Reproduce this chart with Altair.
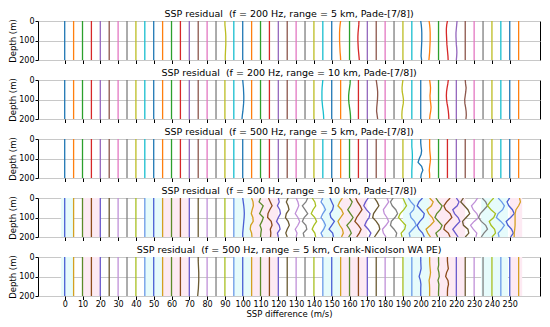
import altair as alt
import pandas as pd

# ---------------- data ----------------
TITLES = [
    "SSP residual\u00a0 (f = 200 Hz, range = 5 km, Pade-[7/8])",
    "SSP residual\u00a0 (f = 200 Hz, range = 10 km, Pade-[7/8])",
    "SSP residual\u00a0 (f = 500 Hz, range = 5 km, Pade-[7/8])",
    "SSP residual\u00a0 (f = 500 Hz, range = 10 km, Pade-[7/8])",
    "SSP residual\u00a0 (f = 500 Hz, range = 5 km, Crank-Nicolson WA PE)",
]
DEPTHS = [0, 20, 40, 60, 80, 100, 120, 140, 160, 180, 200]
OFFSETS = [0, 5, 10, 15, 20, 25, 30, 35, 40, 45, 50, 55, 60, 65, 70, 75, 80, 85, 90, 95,
           100, 105, 110, 115, 120, 125, 130, 135, 140, 145, 150, 155, 160, 165, 170, 175,
           180, 185, 190, 195, 200, 205, 210, 215, 220, 225, 230, 235, 240, 245, 250, 255]
X_TICKS = [0, 10, 20, 30, 40, 50, 60, 70, 80, 90, 100, 110, 120, 130, 140, 150, 160, 170,
           180, 190, 200, 210, 220, 230, 240, 250]

# residual deviation (m/s) for the lines that are not straight, per panel
DEV1 = {
    18: [0, 0, 0.2, 0.4, 0.5, 0.5, 0.5, 0.4, 0.3, 0.2, 0.2],
    31: [0, -0.3, -0.5, -0.6, -0.6, -0.6, -0.5, -0.4, -0.3, -0.1, 0],
    33: [0.3, 0.2, 0, -0.2, -0.3, -0.3, -0.2, -0.1, 0.1, 0.3, 0.5],
    40: [0, 0.3, 0.5, 0.6, 0.6, 0.6, 0.5, 0.4, 0.3, 0.2, 0.5],
    41: [-0.3, 0, 0.2, 0.3, 0.3, 0.3, 0.2, 0.1, 0, -0.2, -0.4],
    43: [0, -0.4, -0.6, -0.6, -0.5, -0.4, -0.3, -0.1, 0.1, 0.3, 0.4],
    44: [0.4, 0.2, 0, -0.2, -0.2, -0.1, 0, 0.2, 0.3, 0.2, 0],
}
DEV2 = {
    20: [0, 0.2, 0.4, 0.5, 0.6, 0.6, 0.5, 0.3, 0.1, -0.2, -0.4],
    29: [0, -0.2, -0.4, -0.5, -0.5, -0.5, -0.3, -0.1, 0.2, 0.4, 0.5],
    32: [0.4, 0.3, 0, -0.3, -0.5, -0.5, -0.3, 0, 0.3, 0.5, 0.6],
    35: [0, 0.3, 0.6, 0.8, 0.8, 0.7, 0.5, 0.3, 0.2, 0.5, 0.8],
    38: [0, -0.3, -0.5, -0.4, 0, 0.3, 0.2, -0.2, -0.5, -0.6, -0.5],
    41: [0, 0.3, 0.5, 0.4, 0.2, 0.3, 0.6, 0.8, 0.6, 0.2, 0],
    43: [0.5, 0.2, -0.2, -0.5, -0.6, -0.5, -0.2, 0.2, 0.5, 0.7, 0.8],
    45: [0, 0.2, 0.5, 0.3, 0, -0.3, -0.2, 0.2, 0.5, 0.6, 0.4],
}
DEV3 = {
    39: [0, 0, 0, 0.2, 0.3, 0.3, 0.2, 0.1, 0, 0, 0],
    40: [0, 0, 0.2, 0.5, 0.2, -0.8, -1.5, 0.5, 1.2, 0.3, 0],
    41: [0, 0, 0, 0.1, 0.3, 0.5, 0.3, 0, -0.2, 0, 0],
}
DEV4 = {
    20: [0, 0.3, 0.6, 0.8, 0.9, 0.8, 0.6, 0.4, 0.2, 0, 0],
    21: [0, 0.8, 1.0, 0.3, -0.2, 0.7, 0.9, -0.5, -0.8, 0, 0.2],
    22: [0, -0.8, 1.5, 0.5, -0.5, 1.6, 0.8, -0.3, 0.5, 0.2, 0],
    23: [-0.5, 0.5, 1.5, 0.2, -0.8, -1.0, 1.0, 1.5, 0.5, 0.8, 0.6],
    24: [0, 0.5, -0.5, 0.8, 1.2, 0.0, -1.0, 0.5, 1.0, -0.5, 0],
    25: [0.5, -0.5, 0.5, 1.0, -0.5, -1.0, 0.5, 1.2, 0.0, -0.8, 0],
    26: [0, 1.0, 1.5, 0.5, -0.5, 1.0, 2.0, 1.0, -0.5, 0.5, 0],
    27: [1.5, 0.5, -1.5, 0, 1.5, -0.5, -1.5, 0.5, 1.0, -1.0, -0.5],
    28: [-1.0, 0.5, 1.0, -0.5, -1.5, 0.5, 1.5, 0, -1.0, 0.5, 1.0],
    29: [0, -1.0, 0.5, 1.5, 0, -1.0, 0.5, 1.5, 0.5, -1.0, 0],
    30: [-1.0, 0, 1.0, 0.5, -1.0, -0.5, 1.5, 0, -1.5, 0.5, 1.0],
    31: [1.0, -0.5, -1.5, 0.5, 1.5, 0, -1.5, -0.5, 1.0, 1.5, 0.5],
    32: [0, 1.5, 0.5, -1.0, 0.5, 2.0, 0.5, -1.5, 0, 1.0, -0.5],
    33: [-1.5, -0.5, 1.0, 2.0, 0.5, -1.0, -2.0, 0, 1.5, 0.5, -1.0],
    34: [0.5, -1.0, -2.0, -0.5, 1.5, 1.0, -0.5, -1.5, 0.5, 2.0, 1.0],
    35: [-1.0, 0.5, 1.5, 0, -1.5, -2.0, 0, 1.5, 2.0, 0.5, -1.0],
    36: [1.0, 2.0, 0.5, -1.0, -0.5, 1.0, 2.0, 0.5, -1.5, -1.0, 0.5],
    37: [-0.5, -2.0, -1.0, 1.0, 2.0, 0.5, -1.5, -2.0, 0, 1.5, 1.0],
    38: [0, 1.0, 2.0, 0.5, -1.5, -2.5, -0.5, 1.5, 1.0, -1.0, -0.5],
    39: [-2.0, -0.5, 1.5, 1.0, -1.0, -0.5, 1.5, 2.5, 0.5, -1.5, -1.0],
    40: [1.0, -1.0, -2.0, 0, 2.0, 1.5, -0.5, -2.0, -1.0, 1.0, 2.0],
    41: [0, 2.0, 1.0, -1.5, -0.5, 1.5, 2.5, 0.5, -2.0, -1.0, 0.5],
    42: [-1.5, 0, 2.0, 1.0, -1.0, -2.0, 0, 2.0, 1.0, -1.5, -0.5],
    43: [1.5, -0.5, -2.0, -1.0, 1.5, 2.5, 0.5, -1.5, -2.0, 0.5, 1.5],
    44: [0, 1.5, 0.5, -2.0, -1.0, 1.0, 2.0, 0, -2.0, -0.5, 1.0],
    45: [-1.0, -2.5, -0.5, 1.5, 2.5, 0.5, -1.5, -1.0, 1.5, 2.0, 0],
    46: [2.0, 0.5, -1.5, -0.5, 1.5, 2.5, 0, -2.0, -0.5, 1.5, 1.0],
    47: [-0.5, 1.5, 2.5, 0.5, -1.5, -2.5, -1.0, 1.5, 2.5, 0.5, -1.0],
    48: [1.0, -1.0, -2.5, -0.5, 2.0, 1.0, -1.5, -0.5, 1.5, 2.0, 0],
    49: [-1.5, 0.5, 2.0, 1.0, -1.5, -2.5, 0, 2.0, 0.5, -1.5, -1.0],
    50: [0, -1.5, -0.5, 1.5, 2.5, 0.5, -2.0, -1.0, 1.0, 2.0, 0.5],
    51: [0.5, 1.0, 0, -1.5, -2.0, -2.0, -2.0, -2.0, -2.2, -2.5, -2.5],
}
DEV5 = {
    15: [0, 0, 0.1, 0.2, 0.3, 0.3, 0.3, 0.2, 0.1, -0.1, -0.3],
    40: [0, 0, 0.1, 0.2, -0.3, -0.9, -0.2, 0.1, 0, 0, 0],
    41: [0, 0, 0.1, 0.3, 0.5, 0.2, -0.3, -0.1, 0, 0, 0],
    42: [0, 0, 0.1, -0.3, 0.2, 0.4, -0.3, 0.2, 0.1, 0, 0],
    43: [0, 0, 0.2, 0.5, -0.5, -1.0, 0.3, 0.6, 0.1, 0, 0],
}
DEVS = [DEV1, DEV2, DEV3, DEV4, DEV5]

# shaded bands (panels 4 and 5)
CYAN_BANDS = [[-2, 5], [45, 55], [95, 105], [145, 155], [190, 205], [234, 249]]
PINK_BANDS = [[10, 20], [55, 70], [105, 120], [155, 170], [205, 225], [250, 257]]

# ---------------- styles ----------------
TAB10 = ["#1f77b4", "#ff7f0e", "#2ca02c", "#d62728", "#9467bd",
         "#8c564b", "#e377c2", "#7f7f7f", "#bcbd22", "#17becf"]
ALT10 = ["#4a5fd4", "#d4a020", "#5b8a2a", "#8b4a1a", "#6a5acd",
         "#6b5a32", "#c090d8", "#808080", "#a8c020", "#6a9ae8"]
PALETTES = [TAB10, TAB10, TAB10, ALT10, ALT10]
SHADED = [False, False, False, True, True]

W = 502
H = 39
FONT = "DejaVu Sans"

panels = []
for p in range(5):
    rows = []
    for i, off in enumerate(OFFSETS):
        dev = DEVS[p].get(i)
        for j, d in enumerate(DEPTHS):
            rows.append({"line": i, "c": i % 10, "depth": d,
                         "x": off + (dev[j] if dev else 0.0)})
    df = pd.DataFrame(rows)
    last = p == 4
    axis_kw = dict(labelFontSize=8, titleFontSize=8.5, labelFont=FONT, titleFont=FONT,
                   domain=False, tickColor="#000", labelColor="#000", titleColor="#000",
                   titleFontWeight="normal")
    if last:
        xaxis = alt.Axis(values=X_TICKS, title="SSP difference (m/s)", grid=False, tickSize=3.5,
                         labelPadding=1, titlePadding=1, **axis_kw)
    else:
        xaxis = alt.Axis(values=X_TICKS, labels=False, title=None, grid=False, tickSize=3.5,
                         **axis_kw)
    yaxis = alt.Axis(values=[0, 100, 200], title="Depth (m)", grid=True, gridColor="#c8c8c8",
                     tickSize=3, labelPadding=1, titlePadding=1, **axis_kw)
    xs = alt.Scale(domain=[-15, 267], nice=False, zero=False)
    ys = alt.Scale(domain=[0, 200], reverse=True, nice=False)
    lines = alt.Chart(df).mark_line(strokeWidth=1.3, clip=True).encode(
        x=alt.X("x:Q", scale=xs, axis=xaxis),
        y=alt.Y("depth:Q", scale=ys, axis=yaxis),
        detail="line:N",
        order="depth:Q",
        color=alt.Color("c:N", scale=alt.Scale(domain=list(range(10)), range=PALETTES[p]),
                        legend=None),
    )
    title = alt.Chart(pd.DataFrame({"t": [TITLES[p]]})).mark_text(
        font=FONT, fontSize=9.5, color="#000", baseline="bottom", align="center"
    ).encode(text="t:N", x=alt.value(W / 2), y=alt.value(-2))
    layers = []
    if SHADED[p]:
        bands = pd.DataFrame(
            [{"a": a, "b": b, "k": "cyan"} for a, b in CYAN_BANDS]
            + [{"a": a, "b": b, "k": "pink"} for a, b in PINK_BANDS])
        rect = alt.Chart(bands).mark_rect(opacity=1).encode(
            x=alt.X("a:Q", scale=xs, axis=xaxis),
            x2="b:Q",
            fill=alt.Fill("k:N", scale=alt.Scale(domain=["cyan", "pink"],
                                                 range=["#e6fbfb", "#fdeaf3"]), legend=None),
        )
        layers.append(rect)
    layers.append(lines)
    layers.append(title)
    panel = alt.layer(*layers).resolve_scale(color="independent", fill="independent").properties(
        width=W, height=H)
    panels.append(panel)

chart = alt.vconcat(*panels, spacing=2).configure(padding=0).configure_view(
    stroke="#000", strokeWidth=1
).configure_concat(spacing=2)

chart.save("out.html", embed_options={"renderer": "svg", "actions": False})
